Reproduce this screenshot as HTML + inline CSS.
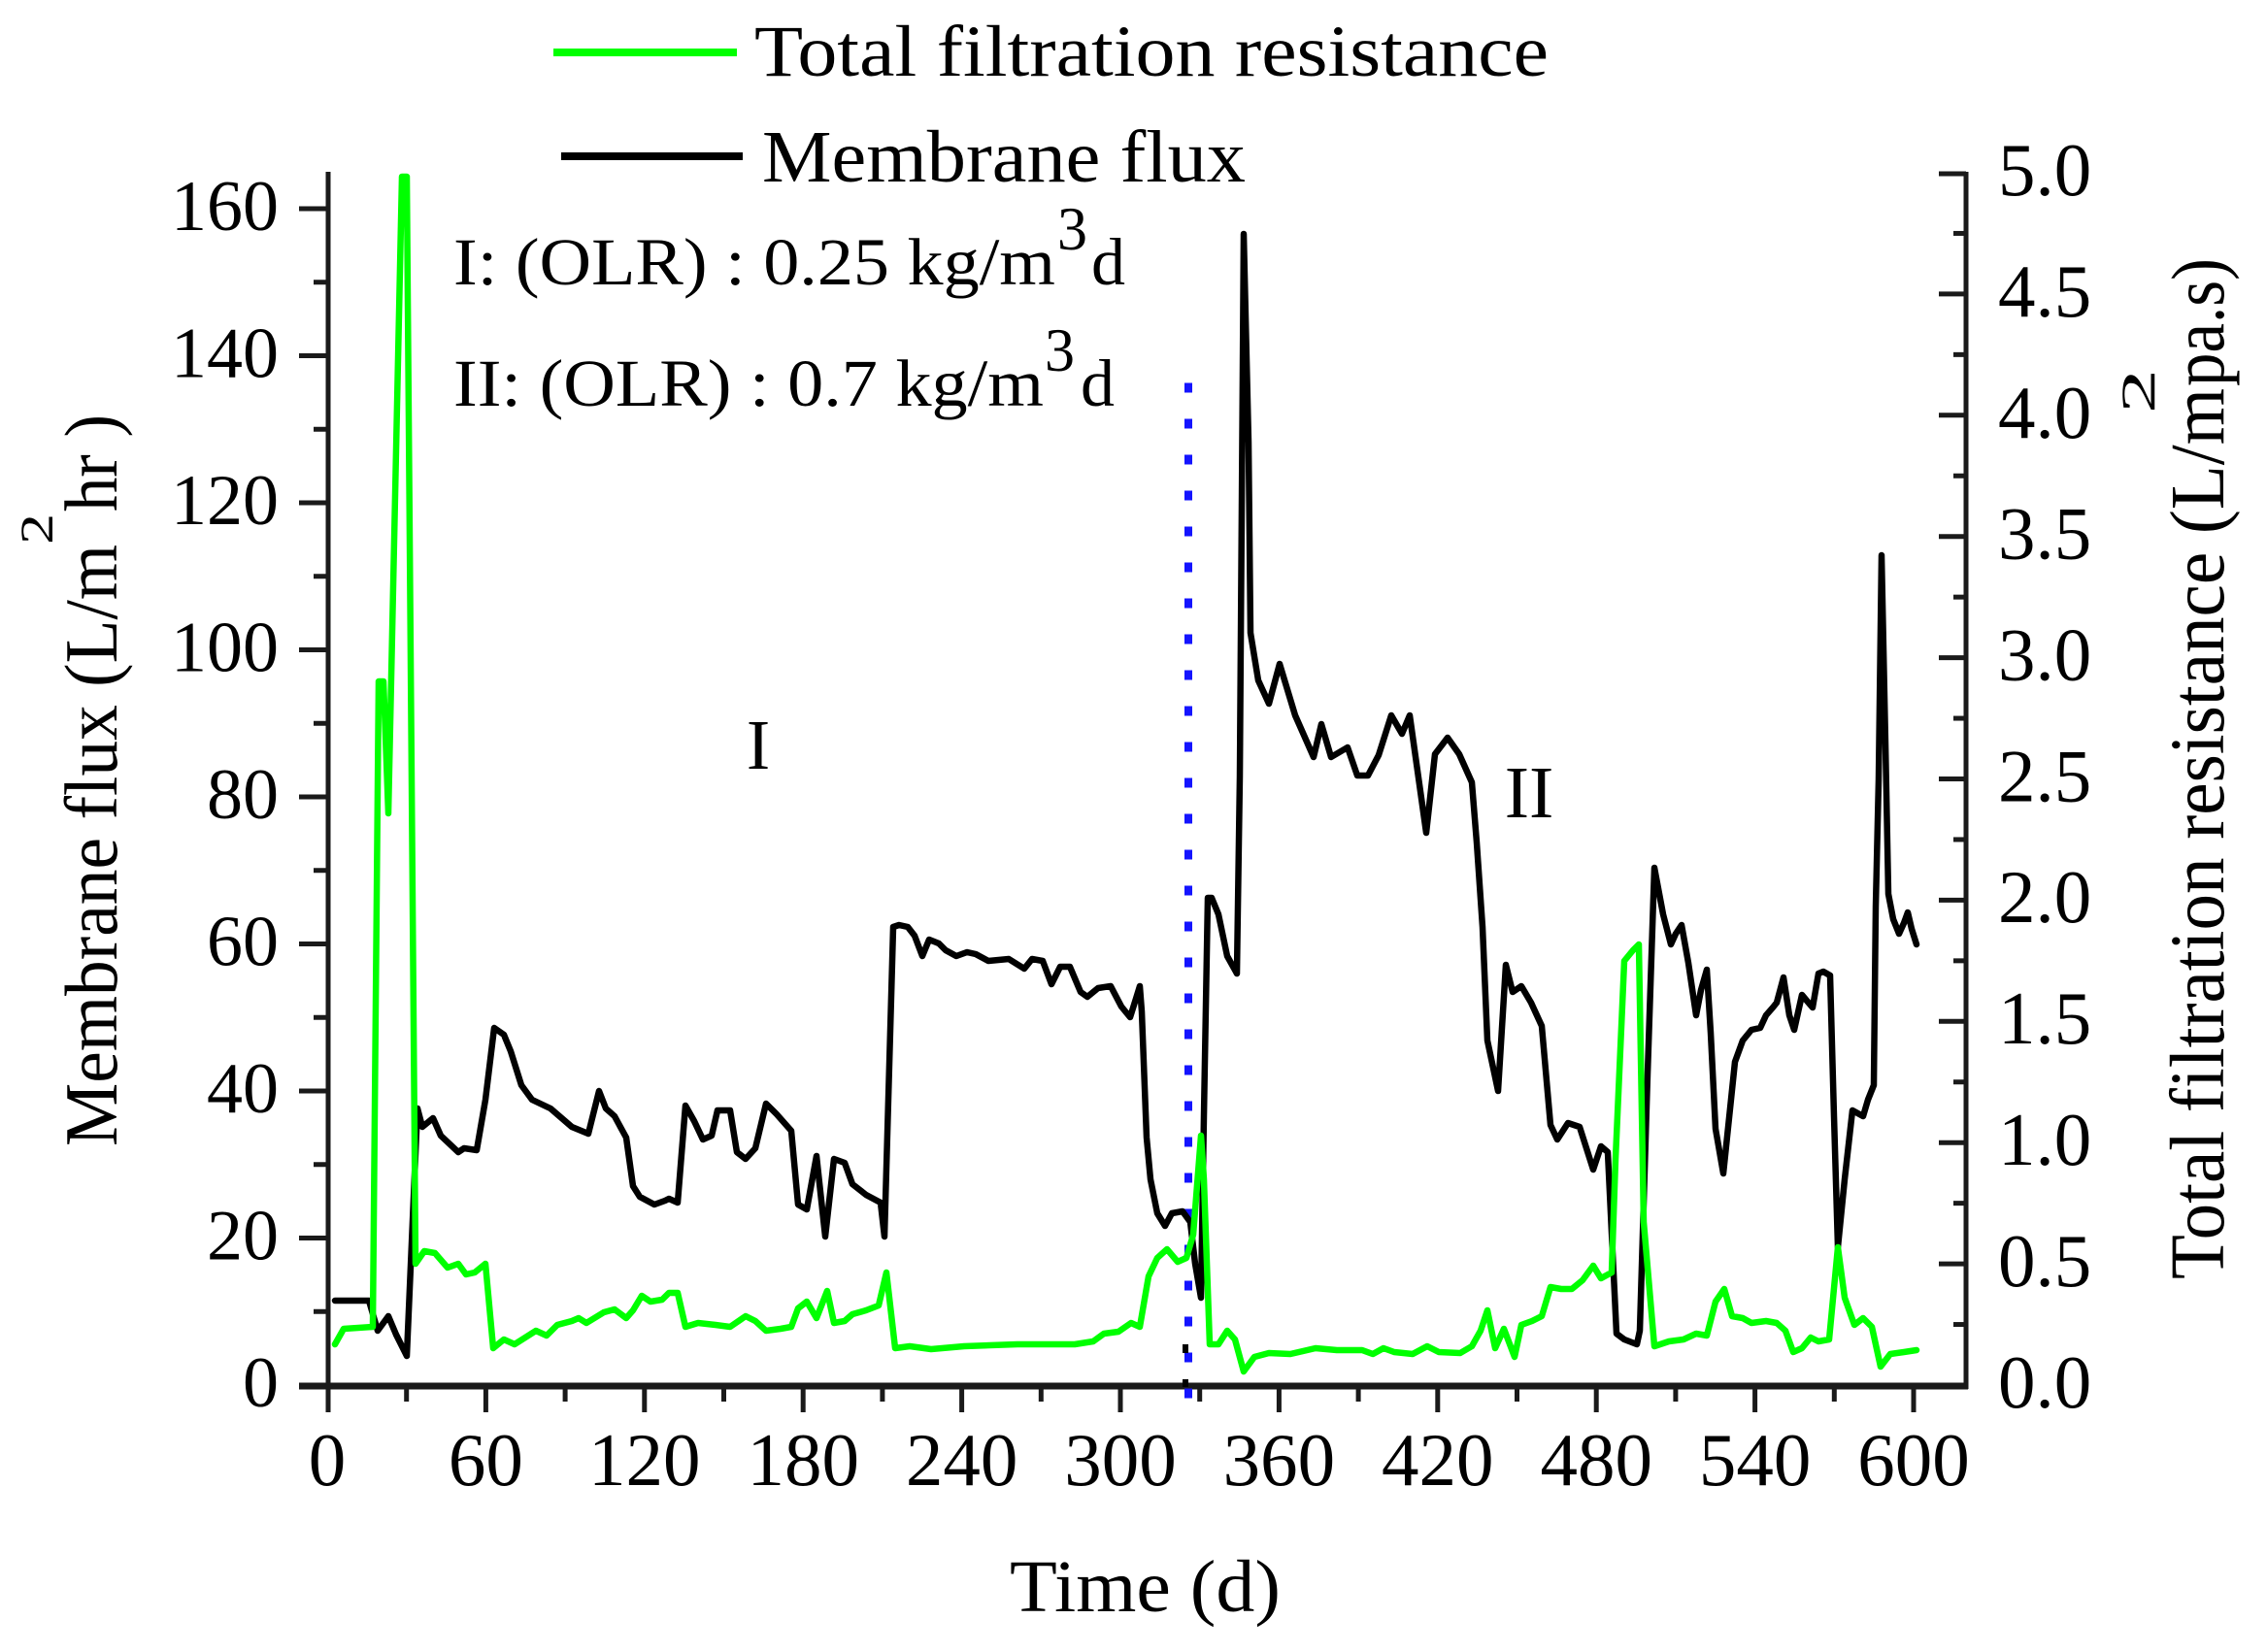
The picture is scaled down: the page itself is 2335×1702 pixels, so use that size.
<!DOCTYPE html>
<html>
<head>
<meta charset="utf-8">
<style>
html,body{margin:0;padding:0;background:#fff;}
svg{display:block;}
text{font-family:"Liberation Serif","Times New Roman",serif;fill:#000;}
</style>
</head>
<body>
<svg width="2335" height="1702" viewBox="0 0 2335 1702" xmlns="http://www.w3.org/2000/svg">
<rect x="0" y="0" width="2335" height="1702" fill="#ffffff"/>

<!-- Legend -->
<line x1="570" y1="54" x2="759" y2="54" stroke="#00ff00" stroke-width="8"/>
<text x="777" y="78" font-size="75" textLength="818" lengthAdjust="spacingAndGlyphs">Total filtration resistance</text>
<line x1="578" y1="161" x2="765" y2="161" stroke="#000" stroke-width="8"/>
<text x="785" y="187" font-size="76" textLength="498" lengthAdjust="spacingAndGlyphs">Membrane flux</text>

<!-- Annotations -->
<text x="467" y="293" font-size="69" textLength="620" lengthAdjust="spacingAndGlyphs">I: (OLR) : 0.25 kg/m</text>
<text x="1089" y="257" font-size="64" textLength="31" lengthAdjust="spacingAndGlyphs">3</text>
<text x="1124" y="293" font-size="69" textLength="35" lengthAdjust="spacingAndGlyphs">d</text>

<text x="467" y="418" font-size="69" textLength="608" lengthAdjust="spacingAndGlyphs">II: (OLR) : 0.7 kg/m</text>
<text x="1076" y="382" font-size="64" textLength="31" lengthAdjust="spacingAndGlyphs">3</text>
<text x="1113" y="418" font-size="69" textLength="35" lengthAdjust="spacingAndGlyphs">d</text>

<text x="781" y="792" font-size="73" text-anchor="middle">I</text>
<text x="1575" y="842" font-size="76" text-anchor="middle">II</text>

<!-- Axes lines -->
<g stroke="#1a1a1a" stroke-linecap="butt" fill="none">
  <line x1="338" y1="177" x2="338" y2="1430" stroke-width="5"/>
  <line x1="2025" y1="177" x2="2025" y2="1431" stroke-width="5"/>
  <line x1="308" y1="1428" x2="2027" y2="1428" stroke-width="7"/>
  <g stroke-width="5">
    <line x1="308" y1="1275.5" x2="338" y2="1275.5"/>
    <line x1="308" y1="1124" x2="338" y2="1124"/>
    <line x1="308" y1="972.5" x2="338" y2="972.5"/>
    <line x1="308" y1="821" x2="338" y2="821"/>
    <line x1="308" y1="669.5" x2="338" y2="669.5"/>
    <line x1="308" y1="518" x2="338" y2="518"/>
    <line x1="308" y1="366.5" x2="338" y2="366.5"/>
    <line x1="308" y1="215" x2="338" y2="215"/>
  </g>
  <g stroke-width="5">
    <line x1="323" y1="1351.25" x2="338" y2="1351.25"/>
    <line x1="323" y1="1199.75" x2="338" y2="1199.75"/>
    <line x1="323" y1="1048.25" x2="338" y2="1048.25"/>
    <line x1="323" y1="896.75" x2="338" y2="896.75"/>
    <line x1="323" y1="745.25" x2="338" y2="745.25"/>
    <line x1="323" y1="593.75" x2="338" y2="593.75"/>
    <line x1="323" y1="442.25" x2="338" y2="442.25"/>
    <line x1="323" y1="290.75" x2="338" y2="290.75"/>
  </g>
  <g stroke-width="5">
    <line x1="338" y1="1428" x2="338" y2="1455"/>
    <line x1="500.4" y1="1428" x2="500.4" y2="1455"/>
    <line x1="663.8" y1="1428" x2="663.8" y2="1455"/>
    <line x1="827.2" y1="1428" x2="827.2" y2="1455"/>
    <line x1="990.6" y1="1428" x2="990.6" y2="1455"/>
    <line x1="1154" y1="1428" x2="1154" y2="1455"/>
    <line x1="1317.4" y1="1428" x2="1317.4" y2="1455"/>
    <line x1="1480.8" y1="1428" x2="1480.8" y2="1455"/>
    <line x1="1644.2" y1="1428" x2="1644.2" y2="1455"/>
    <line x1="1807.6" y1="1428" x2="1807.6" y2="1455"/>
    <line x1="1971" y1="1428" x2="1971" y2="1455"/>
  </g>
  <g stroke-width="5">
    <line x1="418.7" y1="1428" x2="418.7" y2="1444"/>
    <line x1="582.1" y1="1428" x2="582.1" y2="1444"/>
    <line x1="745.5" y1="1428" x2="745.5" y2="1444"/>
    <line x1="908.9" y1="1428" x2="908.9" y2="1444"/>
    <line x1="1072.3" y1="1428" x2="1072.3" y2="1444"/>
    <line x1="1235.7" y1="1428" x2="1235.7" y2="1444"/>
    <line x1="1399.1" y1="1428" x2="1399.1" y2="1444"/>
    <line x1="1562.5" y1="1428" x2="1562.5" y2="1444"/>
    <line x1="1725.9" y1="1428" x2="1725.9" y2="1444"/>
    <line x1="1889.3" y1="1428" x2="1889.3" y2="1444"/>
  </g>
  <g stroke-width="5">
    <line x1="1997" y1="1302.1" x2="2025" y2="1302.1"/>
    <line x1="1997" y1="1177.2" x2="2025" y2="1177.2"/>
    <line x1="1997" y1="1052.3" x2="2025" y2="1052.3"/>
    <line x1="1997" y1="927.4" x2="2025" y2="927.4"/>
    <line x1="1997" y1="802.5" x2="2025" y2="802.5"/>
    <line x1="1997" y1="677.6" x2="2025" y2="677.6"/>
    <line x1="1997" y1="552.7" x2="2025" y2="552.7"/>
    <line x1="1997" y1="427.8" x2="2025" y2="427.8"/>
    <line x1="1997" y1="302.9" x2="2025" y2="302.9"/>
    <line x1="1997" y1="179" x2="2025" y2="179"/>
  </g>
  <g stroke-width="5">
    <line x1="2012" y1="1364.55" x2="2025" y2="1364.55"/>
    <line x1="2012" y1="1239.65" x2="2025" y2="1239.65"/>
    <line x1="2012" y1="1114.75" x2="2025" y2="1114.75"/>
    <line x1="2012" y1="989.85" x2="2025" y2="989.85"/>
    <line x1="2012" y1="864.95" x2="2025" y2="864.95"/>
    <line x1="2012" y1="740.05" x2="2025" y2="740.05"/>
    <line x1="2012" y1="615.15" x2="2025" y2="615.15"/>
    <line x1="2012" y1="490.25" x2="2025" y2="490.25"/>
    <line x1="2012" y1="365.35" x2="2025" y2="365.35"/>
    <line x1="2012" y1="240.45" x2="2025" y2="240.45"/>
  </g>
</g>

<!-- Left tick labels -->
<g font-size="74" text-anchor="end">
  <text x="287" y="1449">0</text>
  <text x="287" y="1297.5">20</text>
  <text x="287" y="1146">40</text>
  <text x="287" y="994.5">60</text>
  <text x="287" y="843">80</text>
  <text x="287" y="691.5">100</text>
  <text x="287" y="540">120</text>
  <text x="287" y="388.5">140</text>
  <text x="287" y="237">160</text>
</g>

<!-- Bottom tick labels -->
<g font-size="77" text-anchor="middle">
  <text x="337" y="1530">0</text>
  <text x="500.4" y="1530">60</text>
  <text x="663.8" y="1530">120</text>
  <text x="827.2" y="1530">180</text>
  <text x="990.6" y="1530">240</text>
  <text x="1154" y="1530">300</text>
  <text x="1317.4" y="1530">360</text>
  <text x="1480.8" y="1530">420</text>
  <text x="1644.2" y="1530">480</text>
  <text x="1807.6" y="1530">540</text>
  <text x="1971" y="1530">600</text>
</g>

<!-- Right tick labels -->
<g font-size="77" text-anchor="start">
  <text x="2058" y="1450">0.0</text>
  <text x="2058" y="1325">0.5</text>
  <text x="2058" y="1200">1.0</text>
  <text x="2058" y="1075">1.5</text>
  <text x="2058" y="950">2.0</text>
  <text x="2058" y="825.5">2.5</text>
  <text x="2058" y="700.6">3.0</text>
  <text x="2058" y="575.7">3.5</text>
  <text x="2058" y="450.8">4.0</text>
  <text x="2058" y="325.9">4.5</text>
  <text x="2058" y="201">5.0</text>
</g>

<!-- Axis titles -->
<text x="1040" y="1660" font-size="76" textLength="279" lengthAdjust="spacingAndGlyphs">Time (d)</text>

<text transform="translate(120,1181) rotate(-90)" font-size="77" textLength="620" lengthAdjust="spacingAndGlyphs">Membrane flux (L/m</text>
<text transform="translate(54,561) rotate(-90)" font-size="48" textLength="32" lengthAdjust="spacingAndGlyphs">2</text>
<text transform="translate(120,527) rotate(-90)" font-size="77" textLength="100" lengthAdjust="spacingAndGlyphs">hr )</text>

<text transform="translate(2290,1318) rotate(-90)" font-size="79" textLength="918" lengthAdjust="spacingAndGlyphs">Total filtration resistance (L/m</text>
<text transform="translate(2219,426) rotate(-90)" font-size="50" textLength="46" lengthAdjust="spacingAndGlyphs">2</text>
<text transform="translate(2290,398) rotate(-90)" font-size="77" textLength="132" lengthAdjust="spacingAndGlyphs">pa.s)</text>

<!-- Blue dotted divider -->
<line x1="1224" y1="394.5" x2="1224" y2="1446" stroke="#1414ff" stroke-width="8" stroke-dasharray="10 27"/>
<rect x="1218" y="1385" width="6" height="9" fill="#000"/>
<rect x="1218" y="1421" width="6" height="8" fill="#000"/>

<!-- Membrane flux (black) -->
<path fill="none" stroke="#000" stroke-width="6.5" stroke-linejoin="round" stroke-linecap="round"
d="M345,1340 L380,1340 L389,1371 L400,1356 L408,1375 L419,1397 L430,1142 L435,1161 L446,1152 L454,1170 L472,1187 L478,1183 L491,1185 L500,1133 L509,1059 L519,1066 L526,1083 L537,1118 L548,1133 L567,1142 L589,1161 L606,1168 L617,1124 L624,1142 L633,1150 L645,1172 L652,1222 L659,1233 L674,1241 L685,1237 L689,1235 L698,1239 L706,1139 L715,1155 L724,1174 L733,1170 L739,1144 L752,1144 L759,1187 L768,1194 L778,1183 L789,1137 L800,1148 L815,1165 L822,1241 L831,1246 L841,1191 L850,1274 L859,1194 L870,1198 L878,1220 L892,1231 L907,1239 L911,1274 L920,955 L926,953 L935,955 L942,964 L950,985 L957,968 L967,972 L974,979 L985,985 L996,981 L1005,983 L1018,990 L1039,988 L1055,998 L1063,988 L1074,990 L1083,1014 L1092,996 L1102,996 L1113,1022 L1120,1027 L1131,1018 L1144,1016 L1155,1037 L1164,1048 L1170,1029 L1174,1016 L1176,1042 L1181,1172 L1185,1215 L1192,1250 L1200,1263 L1207,1250 L1218,1248 L1226,1259 L1231,1302 L1237,1337 L1240,1150 L1244,925 L1248,925 L1255,942 L1264,985 L1274,1003 L1277,800 L1281,241 L1286,456 L1288,652 L1296,701 L1307,725 L1318,684 L1334,737 L1353,780 L1361,746 L1371,780 L1388,770 L1398,799 L1409,799 L1420,778 L1433,737 L1444,756 L1452,737 L1469,858 L1478,777 L1491,760 L1503,777 L1516,806 L1521,868 L1527,955 L1532,1072 L1543,1124 L1551,994 L1558,1022 L1567,1016 L1577,1033 L1588,1057 L1597,1159 L1604,1174 L1615,1157 L1627,1161 L1634,1183 L1641,1205 L1649,1181 L1656,1187 L1665,1374 L1673,1380 L1686,1385 L1689,1371 L1697,1107 L1704,894 L1713,942 L1721,973 L1726,962 L1732,953 L1739,992 L1747,1046 L1752,1020 L1758,999 L1762,1064 L1767,1163 L1775,1209 L1782,1142 L1787,1094 L1795,1072 L1804,1061 L1813,1059 L1819,1046 L1826,1038 L1830,1033 L1837,1007 L1843,1046 L1848,1061 L1856,1025 L1861,1031 L1867,1038 L1873,1003 L1878,1001 L1885,1005 L1889,1150 L1893,1285 L1900,1215 L1908,1144 L1919,1150 L1924,1133 L1930,1118 L1932,934 L1935,803 L1938,572 L1942,766 L1945,921 L1950,947 L1956,962 L1961,951 L1965,940 L1969,957 L1974,973"/>

<!-- Total filtration resistance (green) -->
<path fill="none" stroke="#00ff00" stroke-width="6.5" stroke-linejoin="round" stroke-linecap="round"
d="M345,1385 L354,1369 L384,1367 L390,702 L395,702 L400,838 L414,182 L419,182 L428,1302 L437,1289 L448,1291 L461,1306 L472,1302 L480,1313 L489,1311 L500,1302 L508,1389 L519,1380 L530,1385 L552,1371 L563,1376 L574,1365 L589,1361 L596,1358 L604,1363 L622,1352 L633,1349 L645,1358 L652,1350 L661,1335 L670,1341 L682,1339 L689,1332 L698,1332 L706,1367 L719,1363 L737,1365 L752,1367 L768,1356 L778,1361 L789,1371 L804,1369 L815,1367 L822,1348 L831,1341 L841,1358 L852,1330 L859,1363 L870,1361 L878,1354 L892,1350 L905,1345 L913,1311 L922,1389 L937,1387 L959,1390 L993,1387 L1048,1385 L1085,1385 L1107,1385 L1126,1382 L1137,1374 L1152,1372 L1165,1363 L1174,1367 L1183,1315 L1192,1296 L1202,1287 L1213,1300 L1222,1296 L1229,1272 L1237,1170 L1240,1215 L1246,1385 L1255,1385 L1264,1371 L1272,1380 L1281,1413 L1292,1398 L1307,1394 L1329,1395 L1355,1389 L1377,1391 L1403,1391 L1414,1395 L1425,1389 L1436,1393 L1455,1395 L1470,1387 L1482,1393 L1504,1394 L1516,1387 L1525,1371 L1532,1350 L1540,1389 L1549,1369 L1560,1398 L1567,1365 L1578,1361 L1588,1356 L1597,1326 L1608,1328 L1619,1328 L1630,1319 L1641,1304 L1649,1317 L1660,1311 L1664,1194 L1673,990 L1682,979 L1688,973 L1693,1259 L1704,1387 L1719,1382 L1734,1380 L1747,1374 L1758,1376 L1767,1341 L1776,1328 L1784,1356 L1795,1358 L1804,1363 L1819,1361 L1830,1363 L1839,1371 L1847,1393 L1856,1389 L1865,1378 L1873,1382 L1884,1380 L1893,1285 L1900,1337 L1910,1365 L1919,1358 L1928,1367 L1937,1408 L1947,1395 L1961,1393 L1974,1391"/>
</svg>
</body>
</html>
